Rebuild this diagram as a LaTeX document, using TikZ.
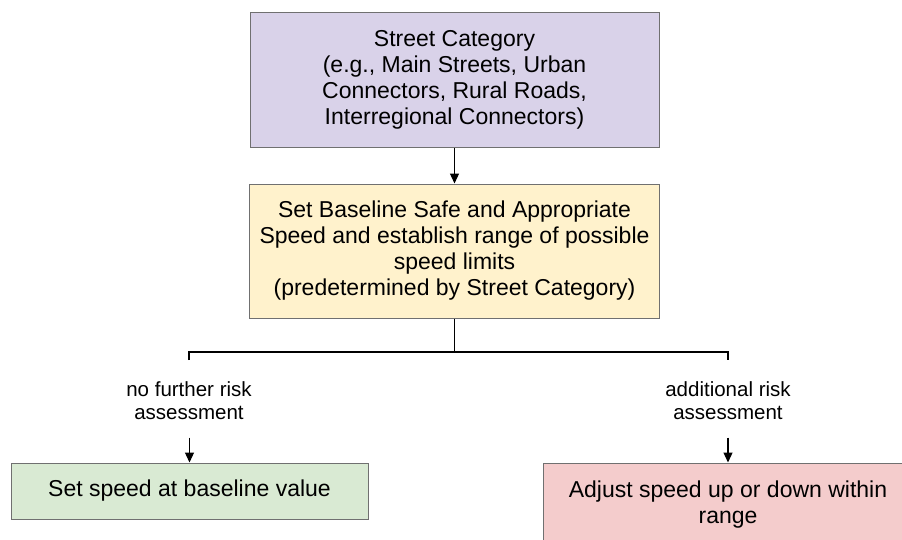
\documentclass[tikz,border=0pt]{standalone}
\usepackage{fontspec}
\setmainfont{Liberation Sans}
\usetikzlibrary{arrows.meta, positioning, calc}

\definecolor{catfill}{HTML}{D9D2E9}
\definecolor{basefill}{HTML}{FFF2CC}
\definecolor{keepfill}{HTML}{D9EAD3}
\definecolor{adjustfill}{HTML}{F4CCCC}
\definecolor{boxline}{HTML}{707070}

\begin{document}
\begin{tikzpicture}[x=1pt, y=-1pt, >={Triangle[width=9pt,length=10pt]}]
    % Define block styles
    \tikzstyle{block} = [rectangle, draw=boxline, line width=1pt, align=center,
        inner sep=0pt, font=\fontsize{23}{26}\selectfont]
    \tikzstyle{note} = [align=center, inner sep=0pt, font=\fontsize{20.5}{23.2}\selectfont]
    \tikzstyle{line} = [draw, line width=1.2pt]
    \tikzstyle{arrow} = [draw, line width=1.2pt, ->]

    \clip (0,0) rectangle (902,539);

    % Define nodes
    \node [block, fill=catfill, minimum width=409pt, minimum height=135pt] (category) at (454.5,80)
        {Street Category\\(e.g., Main Streets, Urban\\Connectors, Rural Roads,\\Interregional Connectors)};
    \node [block, fill=basefill, below of=category, node distance=171pt,
        minimum width=410pt, minimum height=134pt] (baseline)
        {Set Baseline Safe and Appropriate\\Speed and establish range of possible\\speed limits\\(predetermined by Street Category)};

    \coordinate (split) at (454.5,352);
    \coordinate (lefttick) at (189,360);
    \coordinate (righttick) at (728,360);

    \node [note] (nofurther) at (189,401) {no further risk\\assessment};
    \node [note] (additional) at (728,401) {additional risk\\assessment};

    \node [block, fill=keepfill, minimum width=357pt, minimum height=56pt] (keep) at (189.5,491)
        {Set speed at baseline value};
    \node [block, fill=adjustfill, minimum width=370pt, minimum height=84pt] (adjust) at (728,505)
        {Adjust speed up or down within\\range};

    % Draw edges
    \path [arrow] (category) -- (baseline);
    \path [line] (baseline.south) -- (split);
    \path [line] (lefttick) |- (split) -| (righttick);
    \path [arrow] ($(keep.north)+(0,-25)$) -- (keep.north);
    \path [arrow] ($(adjust.north)+(0,-25)$) -- (adjust.north);
\end{tikzpicture}
\end{document}
